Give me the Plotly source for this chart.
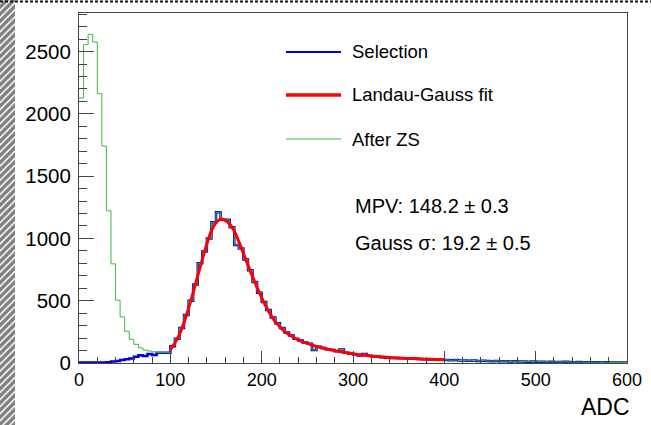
import numpy as np
import plotly.graph_objects as go

# ---------------- data ----------------
bin_width = 5
bin_edges = list(range(0, 605, bin_width))  # 0..600

selection = [
    # 0-100
    4, 4, 4, 4, 5, 5, 6, 12, 16, 24, 30, 37, 51, 62, 56, 72, 64, 83, 83, 83,
    # 100-200
    135, 195, 280, 385, 500, 630, 800, 895, 1000, 1130, 1211, 1150, 1150, 1090, 948, 920, 830, 745, 650, 565,
    # 200-300
    490, 425, 365, 320, 280, 245, 220, 195, 180, 165, 155, 105, 130, 120, 110, 105, 95, 108, 82, 75,
    # 300-400
    68, 60, 72, 58, 52, 50, 46, 43, 41, 40, 38, 38, 35, 34, 33, 31, 30, 29, 28, 27,
    # 400-600
    25, 22, 24, 20, 21, 18, 20, 17, 19, 16, 15, 17, 14, 15, 13, 14, 12, 13, 11, 12,
    10, 11, 9, 10, 9, 8, 10, 8, 7, 8, 7, 6, 7, 6, 5, 6, 5, 5, 4, 4,
]

after_zs_low = [2128, 2556, 2639, 2578, 2162, 1742, 1222, 796, 504, 370,
                255, 190, 150, 122, 104, 96, 90, 84, 83, 83]
after_zs = after_zs_low + selection[20:]

fit_x = [100, 105, 110, 115, 120, 125, 130, 135, 140, 145, 150, 155, 160, 165, 170,
         175, 180, 185, 190, 195, 200, 205, 210, 215, 220, 225, 230, 235, 240, 245,
         250, 260, 270, 280, 290, 300, 310, 320, 330, 340, 350, 360, 370, 380, 390, 400]
fit_y = [105, 160, 230, 325, 440, 565, 700, 830, 955, 1060, 1125, 1155, 1145, 1115, 1060,
         975, 880, 785, 695, 605, 525, 450, 385, 330, 290, 255, 228, 205, 185, 170,
         158, 132, 115, 100, 86, 74, 64, 56, 50, 44, 40, 37, 34, 31, 29, 27]

legend_labels = ["Selection", "Landau-Gauss fit", "After ZS"]
mpv_text = "MPV: 148.2 \u00b1 0.3"
sigma_text = "Gauss \u03c3: 19.2 \u00b1 0.5"
x_title = "ADC"

# ---------------- styling ----------------
W, H = 651, 425
FONT = "Liberation Sans, Arial, Helvetica, sans-serif"
BLUE = "#0000dd"
RED = "#ff0000"
GREEN = "#3fb83f"
AX = "#444444"

px_left, px_right = 79, 627
px_top, px_bottom = 13, 363

fig = go.Figure()

# left hatched strip (on its own axes)
fig.add_trace(go.Scatter(
    x=[0, 1, 1, 0, 0], y=[0, 0, 1, 1, 0], xaxis="x2", yaxis="y2",
    mode="lines", line=dict(width=0), fill="toself",
    fillcolor="white",
    fillpattern=dict(shape="/", fgcolor="#000000", bgcolor="white", size=5, solidity=0.7),
    hoverinfo="skip", showlegend=False,
))

step_x = bin_edges
fig.add_trace(go.Scatter(
    x=step_x, y=selection + [selection[-1]], mode="lines", line_shape="hv",
    line=dict(color=BLUE, width=2.5), name=legend_labels[0], showlegend=False,
))
fig.add_trace(go.Scatter(
    x=step_x, y=after_zs + [after_zs[-1]], mode="lines", line_shape="hv",
    line=dict(color=GREEN, width=1), name=legend_labels[2], showlegend=False,
))
fig.add_trace(go.Scatter(
    x=fit_x, y=fit_y, mode="lines", line_shape="spline",
    line=dict(color=RED, width=3), name=legend_labels[1], showlegend=False,
))

def px_x(p):
    return p / W

def px_y(p):
    return 1 - p / H

fig.update_layout(
    width=W, height=H,
    margin=dict(l=0, r=0, t=0, b=0),
    paper_bgcolor="white", plot_bgcolor="white",
    font=dict(family=FONT, color="#000000"),
    xaxis=dict(
        domain=[px_x(px_left), px_x(px_right)], range=[0, 600],
        showgrid=False, zeroline=False, showline=True, linecolor=AX, linewidth=1,
        mirror=True, ticks="inside", ticklen=12, tickcolor=AX, dtick=100, tick0=0,
        minor=dict(ticks="inside", ticklen=6, dtick=20, tickcolor=AX, showgrid=False),
        tickfont=dict(size=18, family=FONT), automargin=False,
    ),
    yaxis=dict(
        domain=[px_y(px_bottom), px_y(px_top)], range=[0, 2810],
        showgrid=False, zeroline=False, showline=True, linecolor=AX, linewidth=1,
        mirror=True, ticks="inside", ticklen=15, tickcolor=AX, dtick=500, tick0=0,
        minor=dict(ticks="inside", ticklen=8, dtick=100, tickcolor=AX, showgrid=False),
        tickfont=dict(size=20.5, family=FONT), automargin=False, ticklabelstandoff=3,
    ),
    xaxis2=dict(domain=[0, px_x(15)], range=[0, 1], visible=False, fixedrange=True),
    yaxis2=dict(domain=[0, 1], range=[0, 1], visible=False, anchor="x2", fixedrange=True),
)

# top dashed border
fig.add_shape(type="line", xref="paper", yref="paper", x0=0, x1=1,
              y0=px_y(1.5), y1=px_y(1.5), line=dict(color="#111111", width=2, dash="3px,2px"))

# legend (manual)
legend_rows = [(52, BLUE, 2), (95, RED, 3.5), (139, GREEN, 1)]
for (yy, col, lw), lab in zip(legend_rows, legend_labels):
    fig.add_shape(type="line", xref="paper", yref="paper",
                  x0=px_x(286), x1=px_x(341), y0=px_y(yy), y1=px_y(yy),
                  line=dict(color=col, width=lw))
    fig.add_annotation(xref="paper", yref="paper", x=px_x(350), y=px_y(yy),
                       text=lab, showarrow=False, xanchor="left", yanchor="middle",
                       font=dict(size=18.5, family=FONT, color="#000"))

for yy, txt in [(206, mpv_text), (243, sigma_text)]:
    fig.add_annotation(xref="paper", yref="paper", x=px_x(353), y=px_y(yy),
                       text=txt, showarrow=False, xanchor="left", yanchor="middle",
                       font=dict(size=20, family=FONT, color="#000"))

fig.add_annotation(xref="paper", yref="paper", x=px_x(632), y=px_y(407),
                   text=x_title, showarrow=False, xanchor="right", yanchor="middle",
                   font=dict(size=23, family=FONT, color="#000"))

fig.write_html(
    "out.html",
    config={"displayModeBar": False},
    post_script="document.body.style.margin='0';document.body.style.overflow='hidden';",
)
